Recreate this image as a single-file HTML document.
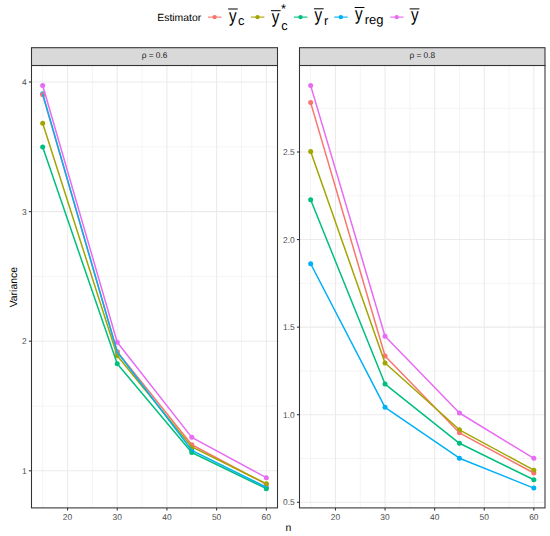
<!DOCTYPE html>
<html><head><meta charset="utf-8"><style>
html,body{margin:0;padding:0;background:#fff;width:550px;height:536px;overflow:hidden}
svg{display:block}
text{text-rendering:geometricPrecision}
text{font-family:"Liberation Sans",sans-serif}
.ax{font-size:8.45px;fill:#4D4D4D}
.st{font-size:8.3px;fill:#1A1A1A}
.tt{font-size:10.4px;fill:#000}
.lg{font-size:17.5px;fill:#000}
.sb{font-size:12.8px;fill:#000}
</style></head><body>
<svg width="550" height="536" viewBox="0 0 550 536">
<rect width="550" height="536" fill="#fff"/>
<line x1="31.5" x2="277.5" y1="406.00" y2="406.00" stroke="#EBEBEB" stroke-width="0.55"/>
<line x1="31.5" x2="277.5" y1="276.40" y2="276.40" stroke="#EBEBEB" stroke-width="0.55"/>
<line x1="31.5" x2="277.5" y1="146.80" y2="146.80" stroke="#EBEBEB" stroke-width="0.55"/>
<line x1="42.68" x2="42.68" y1="65.5" y2="507.9" stroke="#EBEBEB" stroke-width="0.55"/>
<line x1="92.38" x2="92.38" y1="65.5" y2="507.9" stroke="#EBEBEB" stroke-width="0.55"/>
<line x1="142.08" x2="142.08" y1="65.5" y2="507.9" stroke="#EBEBEB" stroke-width="0.55"/>
<line x1="191.77" x2="191.77" y1="65.5" y2="507.9" stroke="#EBEBEB" stroke-width="0.55"/>
<line x1="241.47" x2="241.47" y1="65.5" y2="507.9" stroke="#EBEBEB" stroke-width="0.55"/>
<line x1="31.5" x2="277.5" y1="470.80" y2="470.80" stroke="#EBEBEB" stroke-width="1.1"/>
<line x1="31.5" x2="277.5" y1="341.20" y2="341.20" stroke="#EBEBEB" stroke-width="1.1"/>
<line x1="31.5" x2="277.5" y1="211.60" y2="211.60" stroke="#EBEBEB" stroke-width="1.1"/>
<line x1="31.5" x2="277.5" y1="82.00" y2="82.00" stroke="#EBEBEB" stroke-width="1.1"/>
<line x1="67.53" x2="67.53" y1="65.5" y2="507.9" stroke="#EBEBEB" stroke-width="1.1"/>
<line x1="117.23" x2="117.23" y1="65.5" y2="507.9" stroke="#EBEBEB" stroke-width="1.1"/>
<line x1="166.92" x2="166.92" y1="65.5" y2="507.9" stroke="#EBEBEB" stroke-width="1.1"/>
<line x1="216.62" x2="216.62" y1="65.5" y2="507.9" stroke="#EBEBEB" stroke-width="1.1"/>
<line x1="266.32" x2="266.32" y1="65.5" y2="507.9" stroke="#EBEBEB" stroke-width="1.1"/>
<circle cx="42.68" cy="93.79" r="2.5" fill="#00B0F6"/>
<circle cx="117.23" cy="351.96" r="2.5" fill="#00B0F6"/>
<circle cx="191.77" cy="450.32" r="2.5" fill="#00B0F6"/>
<circle cx="266.32" cy="487.26" r="2.5" fill="#00B0F6"/>
<circle cx="42.68" cy="147.06" r="2.5" fill="#00BF7D"/>
<circle cx="117.23" cy="363.75" r="2.5" fill="#00BF7D"/>
<circle cx="191.77" cy="452.53" r="2.5" fill="#00BF7D"/>
<circle cx="266.32" cy="488.68" r="2.5" fill="#00BF7D"/>
<circle cx="42.68" cy="94.70" r="2.5" fill="#F8766D"/>
<circle cx="117.23" cy="351.70" r="2.5" fill="#F8766D"/>
<circle cx="191.77" cy="444.75" r="2.5" fill="#F8766D"/>
<circle cx="266.32" cy="484.28" r="2.5" fill="#F8766D"/>
<circle cx="42.68" cy="123.34" r="2.5" fill="#A3A500"/>
<circle cx="117.23" cy="355.84" r="2.5" fill="#A3A500"/>
<circle cx="191.77" cy="446.95" r="2.5" fill="#A3A500"/>
<circle cx="266.32" cy="483.63" r="2.5" fill="#A3A500"/>
<circle cx="42.68" cy="85.50" r="2.5" fill="#E76BF3"/>
<circle cx="117.23" cy="342.24" r="2.5" fill="#E76BF3"/>
<circle cx="191.77" cy="437.36" r="2.5" fill="#E76BF3"/>
<circle cx="266.32" cy="477.67" r="2.5" fill="#E76BF3"/>
<polyline points="42.68,94.70 117.23,351.70 191.77,444.75 266.32,484.28" fill="none" stroke="#F8766D" stroke-width="1.5" stroke-linejoin="round" stroke-linecap="butt"/>
<polyline points="42.68,123.34 117.23,355.84 191.77,446.95 266.32,483.63" fill="none" stroke="#A3A500" stroke-width="1.5" stroke-linejoin="round" stroke-linecap="butt"/>
<polyline points="42.68,147.06 117.23,363.75 191.77,452.53 266.32,488.68" fill="none" stroke="#00BF7D" stroke-width="1.5" stroke-linejoin="round" stroke-linecap="butt"/>
<polyline points="42.68,93.79 117.23,351.96 191.77,450.32 266.32,487.26" fill="none" stroke="#00B0F6" stroke-width="1.5" stroke-linejoin="round" stroke-linecap="butt"/>
<polyline points="42.68,85.50 117.23,342.24 191.77,437.36 266.32,477.67" fill="none" stroke="#E76BF3" stroke-width="1.5" stroke-linejoin="round" stroke-linecap="butt"/>
<rect x="31.5" y="65.5" width="246.0" height="442.4" fill="none" stroke="#333333" stroke-width="1.07"/>
<line x1="28.90" x2="31.5" y1="470.80" y2="470.80" stroke="#333333" stroke-width="1.07"/>
<text x="26.80" y="473.99" text-anchor="end" class="ax">1</text>
<line x1="28.90" x2="31.5" y1="341.20" y2="341.20" stroke="#333333" stroke-width="1.07"/>
<text x="26.80" y="344.39" text-anchor="end" class="ax">2</text>
<line x1="28.90" x2="31.5" y1="211.60" y2="211.60" stroke="#333333" stroke-width="1.07"/>
<text x="26.80" y="214.79" text-anchor="end" class="ax">3</text>
<line x1="28.90" x2="31.5" y1="82.00" y2="82.00" stroke="#333333" stroke-width="1.07"/>
<text x="26.80" y="85.19" text-anchor="end" class="ax">4</text>
<line x1="67.53" x2="67.53" y1="507.9" y2="510.50" stroke="#333333" stroke-width="1.07"/>
<text x="67.53" y="519.9" text-anchor="middle" class="ax">20</text>
<line x1="117.23" x2="117.23" y1="507.9" y2="510.50" stroke="#333333" stroke-width="1.07"/>
<text x="117.23" y="519.9" text-anchor="middle" class="ax">30</text>
<line x1="166.92" x2="166.92" y1="507.9" y2="510.50" stroke="#333333" stroke-width="1.07"/>
<text x="166.92" y="519.9" text-anchor="middle" class="ax">40</text>
<line x1="216.62" x2="216.62" y1="507.9" y2="510.50" stroke="#333333" stroke-width="1.07"/>
<text x="216.62" y="519.9" text-anchor="middle" class="ax">50</text>
<line x1="266.32" x2="266.32" y1="507.9" y2="510.50" stroke="#333333" stroke-width="1.07"/>
<text x="266.32" y="519.9" text-anchor="middle" class="ax">60</text>
<line x1="299.5" x2="545.0" y1="458.51" y2="458.51" stroke="#EBEBEB" stroke-width="0.55"/>
<line x1="299.5" x2="545.0" y1="370.94" y2="370.94" stroke="#EBEBEB" stroke-width="0.55"/>
<line x1="299.5" x2="545.0" y1="283.36" y2="283.36" stroke="#EBEBEB" stroke-width="0.55"/>
<line x1="299.5" x2="545.0" y1="195.79" y2="195.79" stroke="#EBEBEB" stroke-width="0.55"/>
<line x1="299.5" x2="545.0" y1="108.21" y2="108.21" stroke="#EBEBEB" stroke-width="0.55"/>
<line x1="310.66" x2="310.66" y1="65.5" y2="507.9" stroke="#EBEBEB" stroke-width="0.55"/>
<line x1="360.26" x2="360.26" y1="65.5" y2="507.9" stroke="#EBEBEB" stroke-width="0.55"/>
<line x1="409.85" x2="409.85" y1="65.5" y2="507.9" stroke="#EBEBEB" stroke-width="0.55"/>
<line x1="459.45" x2="459.45" y1="65.5" y2="507.9" stroke="#EBEBEB" stroke-width="0.55"/>
<line x1="509.04" x2="509.04" y1="65.5" y2="507.9" stroke="#EBEBEB" stroke-width="0.55"/>
<line x1="299.5" x2="545.0" y1="502.30" y2="502.30" stroke="#EBEBEB" stroke-width="1.1"/>
<line x1="299.5" x2="545.0" y1="414.73" y2="414.73" stroke="#EBEBEB" stroke-width="1.1"/>
<line x1="299.5" x2="545.0" y1="327.15" y2="327.15" stroke="#EBEBEB" stroke-width="1.1"/>
<line x1="299.5" x2="545.0" y1="239.57" y2="239.57" stroke="#EBEBEB" stroke-width="1.1"/>
<line x1="299.5" x2="545.0" y1="152.00" y2="152.00" stroke="#EBEBEB" stroke-width="1.1"/>
<line x1="335.46" x2="335.46" y1="65.5" y2="507.9" stroke="#EBEBEB" stroke-width="1.1"/>
<line x1="385.05" x2="385.05" y1="65.5" y2="507.9" stroke="#EBEBEB" stroke-width="1.1"/>
<line x1="434.65" x2="434.65" y1="65.5" y2="507.9" stroke="#EBEBEB" stroke-width="1.1"/>
<line x1="484.24" x2="484.24" y1="65.5" y2="507.9" stroke="#EBEBEB" stroke-width="1.1"/>
<line x1="533.84" x2="533.84" y1="65.5" y2="507.9" stroke="#EBEBEB" stroke-width="1.1"/>
<circle cx="310.66" cy="263.75" r="2.5" fill="#00B0F6"/>
<circle cx="385.05" cy="407.37" r="2.5" fill="#00B0F6"/>
<circle cx="459.45" cy="458.20" r="2.5" fill="#00B0F6"/>
<circle cx="533.84" cy="488.10" r="2.5" fill="#00B0F6"/>
<circle cx="310.66" cy="199.82" r="2.5" fill="#00BF7D"/>
<circle cx="385.05" cy="384.07" r="2.5" fill="#00BF7D"/>
<circle cx="459.45" cy="443.29" r="2.5" fill="#00BF7D"/>
<circle cx="533.84" cy="479.79" r="2.5" fill="#00BF7D"/>
<circle cx="310.66" cy="102.61" r="2.5" fill="#F8766D"/>
<circle cx="385.05" cy="356.05" r="2.5" fill="#F8766D"/>
<circle cx="459.45" cy="432.84" r="2.5" fill="#F8766D"/>
<circle cx="533.84" cy="473.00" r="2.5" fill="#F8766D"/>
<circle cx="310.66" cy="151.47" r="2.5" fill="#A3A500"/>
<circle cx="385.05" cy="363.06" r="2.5" fill="#A3A500"/>
<circle cx="459.45" cy="429.79" r="2.5" fill="#A3A500"/>
<circle cx="533.84" cy="470.20" r="2.5" fill="#A3A500"/>
<circle cx="310.66" cy="85.62" r="2.5" fill="#E76BF3"/>
<circle cx="385.05" cy="336.26" r="2.5" fill="#E76BF3"/>
<circle cx="459.45" cy="412.99" r="2.5" fill="#E76BF3"/>
<circle cx="533.84" cy="458.30" r="2.5" fill="#E76BF3"/>
<polyline points="310.66,102.61 385.05,356.05 459.45,432.84 533.84,473.00" fill="none" stroke="#F8766D" stroke-width="1.5" stroke-linejoin="round" stroke-linecap="butt"/>
<polyline points="310.66,151.47 385.05,363.06 459.45,429.79 533.84,470.20" fill="none" stroke="#A3A500" stroke-width="1.5" stroke-linejoin="round" stroke-linecap="butt"/>
<polyline points="310.66,199.82 385.05,384.07 459.45,443.29 533.84,479.79" fill="none" stroke="#00BF7D" stroke-width="1.5" stroke-linejoin="round" stroke-linecap="butt"/>
<polyline points="310.66,263.75 385.05,407.37 459.45,458.20 533.84,488.10" fill="none" stroke="#00B0F6" stroke-width="1.5" stroke-linejoin="round" stroke-linecap="butt"/>
<polyline points="310.66,85.62 385.05,336.26 459.45,412.99 533.84,458.30" fill="none" stroke="#E76BF3" stroke-width="1.5" stroke-linejoin="round" stroke-linecap="butt"/>
<rect x="299.5" y="65.5" width="245.5" height="442.4" fill="none" stroke="#333333" stroke-width="1.07"/>
<line x1="296.90" x2="299.5" y1="502.30" y2="502.30" stroke="#333333" stroke-width="1.07"/>
<text x="294.80" y="505.49" text-anchor="end" class="ax">0.5</text>
<line x1="296.90" x2="299.5" y1="414.73" y2="414.73" stroke="#333333" stroke-width="1.07"/>
<text x="294.80" y="417.92" text-anchor="end" class="ax">1.0</text>
<line x1="296.90" x2="299.5" y1="327.15" y2="327.15" stroke="#333333" stroke-width="1.07"/>
<text x="294.80" y="330.34" text-anchor="end" class="ax">1.5</text>
<line x1="296.90" x2="299.5" y1="239.57" y2="239.57" stroke="#333333" stroke-width="1.07"/>
<text x="294.80" y="242.77" text-anchor="end" class="ax">2.0</text>
<line x1="296.90" x2="299.5" y1="152.00" y2="152.00" stroke="#333333" stroke-width="1.07"/>
<text x="294.80" y="155.19" text-anchor="end" class="ax">2.5</text>
<line x1="335.46" x2="335.46" y1="507.9" y2="510.50" stroke="#333333" stroke-width="1.07"/>
<text x="335.46" y="519.9" text-anchor="middle" class="ax">20</text>
<line x1="385.05" x2="385.05" y1="507.9" y2="510.50" stroke="#333333" stroke-width="1.07"/>
<text x="385.05" y="519.9" text-anchor="middle" class="ax">30</text>
<line x1="434.65" x2="434.65" y1="507.9" y2="510.50" stroke="#333333" stroke-width="1.07"/>
<text x="434.65" y="519.9" text-anchor="middle" class="ax">40</text>
<line x1="484.24" x2="484.24" y1="507.9" y2="510.50" stroke="#333333" stroke-width="1.07"/>
<text x="484.24" y="519.9" text-anchor="middle" class="ax">50</text>
<line x1="533.84" x2="533.84" y1="507.9" y2="510.50" stroke="#333333" stroke-width="1.07"/>
<text x="533.84" y="519.9" text-anchor="middle" class="ax">60</text>
<rect x="31.5" y="47.7" width="246.0" height="17.799999999999997" fill="#D9D9D9" stroke="#333333" stroke-width="1.07"/>
<text x="154.50" y="58.35" text-anchor="middle" class="st">ρ = 0.6</text>
<rect x="299.5" y="47.7" width="245.5" height="17.799999999999997" fill="#D9D9D9" stroke="#333333" stroke-width="1.07"/>
<text x="422.25" y="58.35" text-anchor="middle" class="st">ρ = 0.8</text>
<text x="288.3" y="530.7" text-anchor="middle" class="tt">n</text>
<text transform="translate(16.8,287.2) rotate(-90)" text-anchor="middle" class="tt">Variance</text>
<text x="157.3" y="20.6" class="tt">Estimator</text>
<line x1="208.00" x2="221.50" y1="17.1" y2="17.1" stroke="#F8766D" stroke-width="1.1"/>
<circle cx="214.60" cy="17.1" r="2.2" fill="#F8766D"/>
<line x1="250.90" x2="264.40" y1="17.1" y2="17.1" stroke="#A3A500" stroke-width="1.1"/>
<circle cx="257.50" cy="17.1" r="2.2" fill="#A3A500"/>
<line x1="293.90" x2="307.40" y1="17.1" y2="17.1" stroke="#00BF7D" stroke-width="1.1"/>
<circle cx="300.50" cy="17.1" r="2.2" fill="#00BF7D"/>
<line x1="334.20" x2="347.70" y1="17.1" y2="17.1" stroke="#00B0F6" stroke-width="1.1"/>
<circle cx="340.80" cy="17.1" r="2.2" fill="#00B0F6"/>
<line x1="390.10" x2="403.60" y1="17.1" y2="17.1" stroke="#E76BF3" stroke-width="1.1"/>
<circle cx="396.70" cy="17.1" r="2.2" fill="#E76BF3"/>
<line x1="228.10" x2="237.80" y1="9.00" y2="9.00" stroke="#000" stroke-width="1.0"/>
<text transform="translate(229.10,21.50) scale(0.87,1.05)" class="lg">y</text>
<text x="238.0" y="24.8" class="sb">c</text>
<line x1="271.00" x2="280.60" y1="10.70" y2="10.70" stroke="#000" stroke-width="1.0"/>
<text transform="translate(271.65,23.10) scale(0.87,1.05)" class="lg">y</text>
<text x="281.2" y="29.65" class="sb">c</text>
<text x="281.1" y="12.7" class="sb">*</text>
<line x1="313.95" x2="323.65" y1="8.80" y2="8.80" stroke="#000" stroke-width="1.0"/>
<text transform="translate(314.60,21.20) scale(0.87,1.05)" class="lg">y</text>
<text x="323.9" y="25.0" class="sb">r</text>
<line x1="354.70" x2="364.40" y1="7.50" y2="7.50" stroke="#000" stroke-width="1.0"/>
<text transform="translate(355.10,20.10) scale(0.87,1.05)" class="lg">y</text>
<text x="364.7" y="24.0" class="sb" style="font-size:13px">reg</text>
<line x1="409.70" x2="419.40" y1="8.90" y2="8.90" stroke="#000" stroke-width="1.0"/>
<text transform="translate(411.00,21.30) scale(0.87,1.05)" class="lg">y</text>
</svg>
</body></html>
